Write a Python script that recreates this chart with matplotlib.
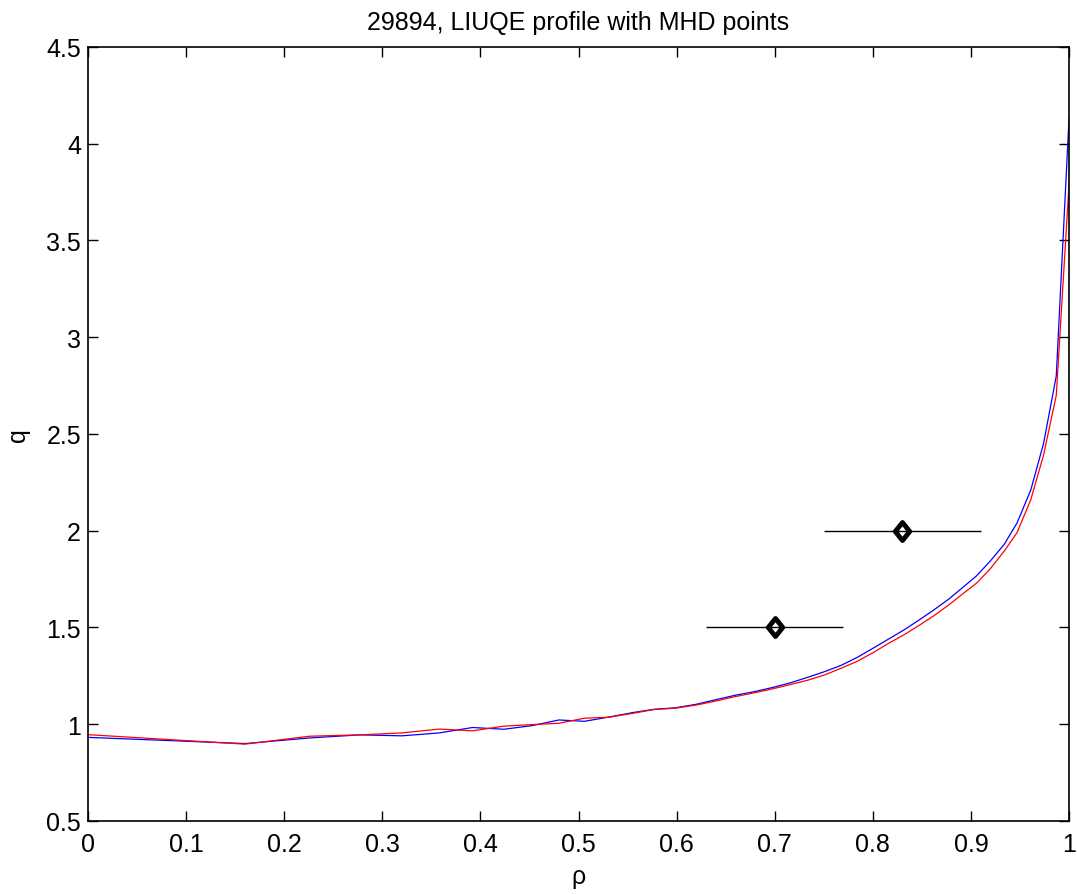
import matplotlib
matplotlib.use("Agg")
import matplotlib.pyplot as plt
from matplotlib.path import Path

# ---------------------------------------------------------------------------
# Data
# ---------------------------------------------------------------------------

rho = [0.000, 0.160, 0.226, 0.277, 0.320, 0.358, 0.392, 0.424, 0.453, 0.480,
       0.506, 0.531, 0.555, 0.577, 0.599, 0.620, 0.641, 0.660, 0.679, 0.698,
       0.716, 0.734, 0.751, 0.768, 0.784, 0.801, 0.816, 0.832, 0.847, 0.862,
       0.877, 0.892, 0.906, 0.920, 0.934, 0.947, 0.961, 0.974, 0.987, 1.000]

q_blue = [0.932, 0.900, 0.929, 0.945, 0.940, 0.955, 0.983, 0.974, 0.993, 1.022,
          1.015, 1.037, 1.060, 1.077, 1.085, 1.103, 1.128, 1.150, 1.168, 1.190,
          1.214, 1.243, 1.272, 1.305, 1.345, 1.395, 1.440, 1.488, 1.538, 1.590,
          1.645, 1.708, 1.768, 1.845, 1.930, 2.040, 2.210, 2.450, 2.800, 4.130]

q_red = [0.946, 0.897, 0.938, 0.945, 0.955, 0.975, 0.966, 0.990, 0.998, 1.005,
         1.031, 1.036, 1.056, 1.076, 1.083, 1.099, 1.121, 1.143, 1.162, 1.183,
         1.205, 1.228, 1.255, 1.290, 1.325, 1.372, 1.418, 1.463, 1.510, 1.560,
         1.615, 1.675, 1.730, 1.805, 1.895, 1.990, 2.160, 2.390, 2.700, 3.790]

# MHD points with horizontal error bars
mhd_rho = [0.70, 0.83]
mhd_q = [1.5, 2.0]
mhd_err = [0.07, 0.08]

TITLE = "29894, LIUQE profile with MHD points"

# ---------------------------------------------------------------------------
# Figure
# ---------------------------------------------------------------------------

plt.rcParams["font.family"] = ["Liberation Sans", "DejaVu Sans"]

fig = plt.figure(figsize=(10.77, 8.95), dpi=100)
ax = fig.add_axes([0.0817, 0.0816, 0.9109, 0.8648])

ax.plot(rho, q_blue, color="#0000ff", linewidth=0.9)
ax.plot(rho, q_red, color="#ff0000", linewidth=0.9)

# MATLAB-like diamond, a bit wider than matplotlib's thin diamond
diamond = Path([(0, 1), (0.8, 0), (0, -1), (-0.8, 0), (0, 1)],
               [Path.MOVETO, Path.LINETO, Path.LINETO, Path.LINETO, Path.CLOSEPOLY])
ax.plot(mhd_rho, mhd_q, linestyle="none", marker=diamond, markersize=13,
        markeredgewidth=3.5, markerfacecolor="white", markeredgecolor="black",
        zorder=3)
ax.errorbar(mhd_rho, mhd_q, xerr=mhd_err, fmt="none", ecolor="black",
            elinewidth=1.0, capsize=0, zorder=4)

ax.set_xlim(0, 1)
ax.set_ylim(0.5, 4.5)
ax.set_xticks([0, 0.1, 0.2, 0.3, 0.4, 0.5, 0.6, 0.7, 0.8, 0.9, 1])
ax.set_xticklabels(["0", "0.1", "0.2", "0.3", "0.4", "0.5", "0.6", "0.7", "0.8", "0.9", "1"])
ax.set_yticks([0.5, 1, 1.5, 2, 2.5, 3, 3.5, 4, 4.5])
ax.set_yticklabels(["0.5", "1", "1.5", "2", "2.5", "3", "3.5", "4", "4.5"])

ax.tick_params(direction="in", length=7, width=1.0, labelsize=18,
               top=True, right=True, pad=5)
ax.tick_params(axis="x", pad=8)
for sp in ax.spines.values():
    sp.set_linewidth(1.2)

ax.set_xlabel("ρ", fontsize=18, labelpad=6)
ax.set_ylabel("q", fontsize=18, labelpad=12)
ax.set_title(TITLE, fontsize=18, pad=13)

fig.savefig("out.png", dpi=100)
